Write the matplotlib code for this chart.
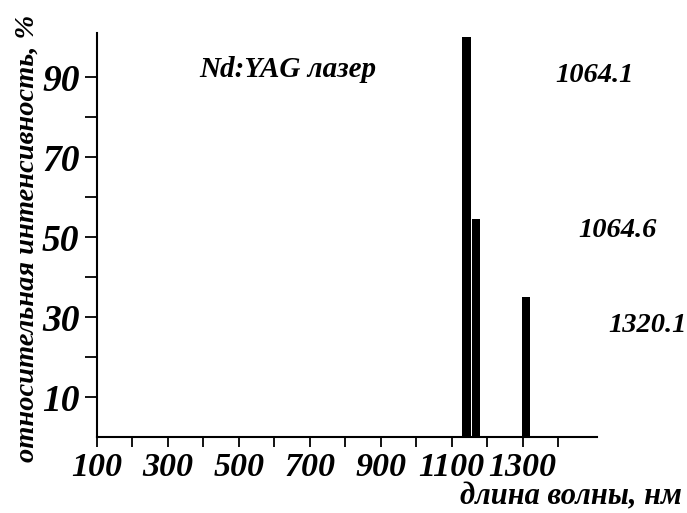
import matplotlib.pyplot as plt

# data
wavelength = [1142, 1170, 1310]
intensity = [100, 54.5, 35]
peak_labels = ['1064.1', '1064.6', '1320.1']
label_pos = [(1392, 90.4), (1456, 51.7), (1541, 27.8)]

plt.rcParams['font.family'] = ['Liberation Serif', 'DejaVu Serif']

fig = plt.figure(figsize=(6.87, 5.13), dpi=100)
ax = fig.add_axes([0.141, 0.148, 0.728, 0.7875])

ax.bar(wavelength, intensity, width=23, color='black')

for lab, (x, y) in zip(peak_labels, label_pos):
    ax.text(x, y, lab, fontsize=20.5, fontweight='bold', fontstyle='italic',
            va='center', ha='left', clip_on=False)
ax.text(388, 92, 'Nd:YAG лазер', fontsize=21, fontweight='bold',
        fontstyle='italic', va='center', ha='left')

ax.set_xlim(100, 1510)
ax.set_ylim(0, 101)
ax.set_xticks([100, 300, 500, 700, 900, 1100, 1300])
ax.set_xticks([200, 400, 600, 800, 1000, 1200, 1400], minor=True)
ax.set_yticks([10, 30, 50, 70, 90])
ax.set_yticks([20, 40, 60, 80], minor=True)

for s in ['top', 'right']:
    ax.spines[s].set_visible(False)
for s in ['left', 'bottom']:
    ax.spines[s].set_linewidth(1.5)

ax.tick_params(which='both', direction='out', length=7, width=1.3)
ax.tick_params(axis='y', which='both', length=9)
for t in ax.get_xticklabels():
    t.set_fontsize(24.5)
    t.set_fontweight('bold')
    t.set_fontstyle('italic')
for t in ax.get_yticklabels():
    t.set_fontsize(27)
    t.set_fontweight('bold')
    t.set_fontstyle('italic')

fig.text(0.993, 0.031, 'длина волны, нм', fontsize=22, fontweight='bold',
         fontstyle='italic', ha='right', va='center')
fig.text(0.04, 0.536, 'относительная интенсивность, %', fontsize=20.5,
         fontweight='bold', fontstyle='italic', rotation=90,
         ha='center', va='center')

fig.savefig('out.png', dpi=100)
